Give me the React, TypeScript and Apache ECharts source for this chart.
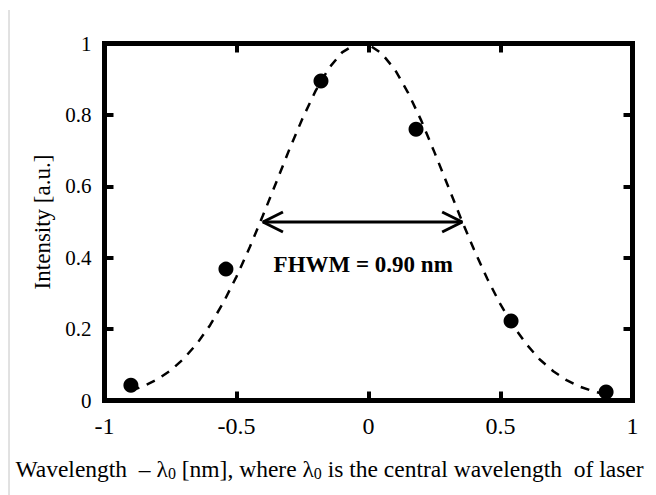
import React, { useEffect, useRef } from "react";
import * as echarts from "echarts";

// Measured data points (wavelength offset [nm], intensity [a.u.])
const pointX = [-0.9, -0.54, -0.18, 0.18, 0.54, 0.9];
const pointY = [0.043, 0.368, 0.895, 0.76, 0.223, 0.024];

// Fitted curve
const curveX = [
  -0.9, -0.85, -0.8, -0.75, -0.7, -0.65, -0.6, -0.55, -0.5, -0.45, -0.4, -0.35,
  -0.3, -0.25, -0.2, -0.15, -0.1, -0.05, 0, 0.05, 0.1, 0.15, 0.2, 0.25, 0.3,
  0.35, 0.4, 0.45, 0.5, 0.55, 0.6, 0.65, 0.7, 0.75, 0.8, 0.85, 0.9,
];
const curveY = [
  0.027, 0.041, 0.059, 0.084, 0.117, 0.159, 0.211, 0.274, 0.347, 0.429, 0.518,
  0.61, 0.703, 0.79, 0.868, 0.931, 0.975, 0.998, 0.997, 0.972, 0.927, 0.862,
  0.784, 0.695, 0.603, 0.51, 0.422, 0.341, 0.269, 0.207, 0.156, 0.114, 0.082,
  0.057, 0.039, 0.026, 0.017,
];

// FWHM arrow annotation (data coordinates)
const arrowX = [-0.4, 0.355];
const arrowY = [0.5, 0.5];
const leftHeadX = [-0.324, -0.4, -0.324];
const leftHeadY = [0.528, 0.5, 0.472];
const rightHeadX = [0.279, 0.355, 0.279];
const rightHeadY = [0.528, 0.5, 0.472];
const annotationText = "FHWM = 0.90 nm";
const annotationAt = [-0.02, 0.5];

const xTickLabels = ["-1", "-0.5", "0", "0.5", "1"];
const yTickLabels = ["0", "0.2", "0.4", "0.6", "0.8", "1"];

const zip = (xs: number[], ys: number[]) => xs.map((x, i) => [x, ys[i]]);

const FONT = "Liberation Serif";
const INK = "#000";

export default function App() {
  const ref = useRef<HTMLDivElement>(null);
  useEffect(() => {
    if (!ref.current) return;
    const chart = echarts.init(ref.current, undefined, { renderer: "svg" });
    const tickStyle = { show: true, inside: true, length: 9, lineStyle: { color: INK, width: 4 } };
    chart.setOption({
      animation: false,
      backgroundColor: "#fff",
      grid: {
        left: 104.5,
        right: 23.5,
        top: 43.5,
        bottom: 94.5,
        containLabel: false,
        outerBoundsMode: "none",
        show: true,
        borderColor: INK,
        borderWidth: 5,
        backgroundColor: "transparent",
      },
      graphic: [
        {
          type: "line",
          shape: { x1: 9, y1: 10, x2: 9, y2: 495 },
          style: { stroke: "#c4c4c4", lineWidth: 1 },
        },
      ],
      xAxis: [
        {
          type: "value",
          min: -1,
          max: 1,
          interval: 0.5,
          position: "bottom",
          axisLine: { show: false, onZero: false },
          axisTick: tickStyle,
          splitLine: { show: false },
          axisLabel: {
            color: INK,
            fontFamily: FONT,
            fontSize: 24,
            margin: 13,
            formatter: (v: number) => xTickLabels[Math.round((v + 1) / 0.5)],
          },
          name: "{a|Wavelength  – λ}{s|0}{a| [nm], where λ}{s|0}{a| is the central wavelength  of laser}",
          nameLocation: "middle",
          nameGap: 55,
          nameTextStyle: {
            padding: [0, 78, 0, 0],
            rich: {
              a: { fontFamily: FONT, fontSize: 23.5, color: INK, lineHeight: 26 },
              s: { fontFamily: FONT, fontSize: 16, color: INK, lineHeight: 13, verticalAlign: "bottom" },
            },
          },
        },
        {
          type: "value",
          min: -1,
          max: 1,
          interval: 0.5,
          position: "top",
          axisLine: { show: false, onZero: false },
          axisTick: tickStyle,
          axisLabel: { show: false },
          splitLine: { show: false },
        },
      ],
      yAxis: [
        {
          type: "value",
          min: 0,
          max: 1,
          interval: 0.2,
          position: "left",
          axisLine: { show: false, onZero: false },
          axisTick: tickStyle,
          splitLine: { show: false },
          axisLabel: {
            color: INK,
            fontFamily: FONT,
            fontSize: 21,
            margin: 13,
            formatter: (v: number) => yTickLabels[Math.round(v / 0.2)],
          },
          name: "Intensity [a.u.]",
          nameLocation: "middle",
          nameRotate: 90,
          nameGap: 51,
          nameTextStyle: { fontFamily: FONT, fontSize: 23, color: INK },
        },
        {
          type: "value",
          min: 0,
          max: 1,
          interval: 0.2,
          position: "right",
          axisLine: { show: false, onZero: false },
          axisTick: tickStyle,
          axisLabel: { show: false },
          splitLine: { show: false },
        },
      ],
      series: [
        {
          type: "line",
          data: zip(curveX, curveY),
          showSymbol: false,
          symbol: "none",
          lineStyle: { color: INK, width: 2.5, type: [9, 8] },
          z: 2,
        },
        {
          type: "scatter",
          data: zip(pointX, pointY),
          symbol: "circle",
          symbolSize: 15,
          itemStyle: { color: INK, opacity: 1 },
          z: 3,
        },
        {
          type: "line",
          data: zip(arrowX, arrowY),
          symbol: "none",
          lineStyle: { color: INK, width: 3 },
          markPoint: {
            symbol: "circle",
            symbolSize: 0,
            data: [{ coord: annotationAt }],
            label: {
              show: true,
              formatter: annotationText,
              position: "inside",
              offset: [0, 42],
              fontFamily: FONT,
              fontWeight: "bold",
              fontSize: 23,
              color: INK,
            },
          },
        },
        {
          type: "line",
          data: zip(leftHeadX, leftHeadY),
          symbol: "none",
          lineStyle: { color: INK, width: 3 },
        },
        {
          type: "line",
          data: zip(rightHeadX, rightHeadY),
          symbol: "none",
          lineStyle: { color: INK, width: 3 },
        },
      ],
    });
    return () => chart.dispose();
  }, []);
  return (
    <div
      ref={ref}
      style={{ position: "fixed", left: 0, top: 0, width: 656, height: 495 }}
    />
  );
}
